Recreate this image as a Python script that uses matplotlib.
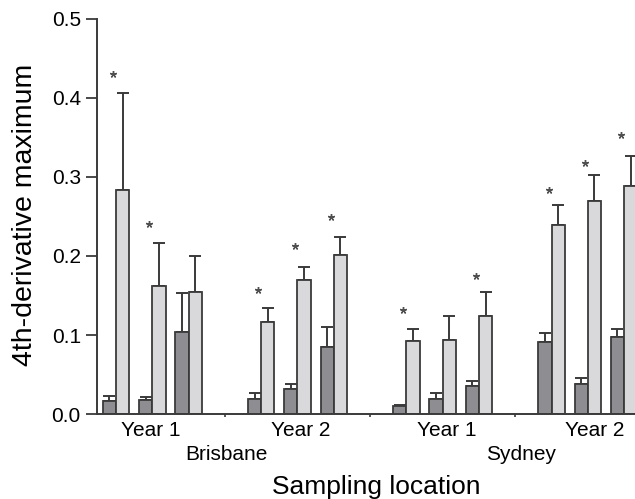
import numpy as np
import matplotlib
matplotlib.use("Agg")
import matplotlib.pyplot as plt
import matplotlib.transforms as mtransforms

plt.rcParams['font.family'] = ['Liberation Sans', 'DejaVu Sans']

# one entry per bar pair: Brisbane Y1 (x3), Brisbane Y2 (x3), Sydney Y1 (x3), Sydney Y2 (x3)
dark_mean = [0.017, 0.018, 0.104, 0.019, 0.032, 0.085, 0.010, 0.019, 0.035, 0.091, 0.038, 0.098]
dark_top = [0.023, 0.022, 0.153, 0.026, 0.038, 0.110, 0.012, 0.027, 0.042, 0.103, 0.046, 0.108]
light_mean = [0.283, 0.162, 0.154, 0.116, 0.170, 0.201, 0.093, 0.094, 0.124, 0.239, 0.270, 0.288]
light_top = [0.406, 0.216, 0.200, 0.134, 0.186, 0.224, 0.108, 0.124, 0.154, 0.265, 0.302, 0.327]
star_y = [0.430, 0.240, None, 0.157, 0.213, 0.249, 0.132, None, 0.175, 0.284, 0.318, 0.353]

year_labels = ["Year 1", "Year 2", "Year 1", "Year 2"]
city_labels = ["Brisbane", "Sydney"]
yticks = [0.0, 0.1, 0.2, 0.3, 0.4, 0.5]

DARK = "#8d8d92"
LIGHT = "#d9d9db"
EDGE = "#3a3a3a"

# pair positions: 3 pairs per group, one empty slot between groups
pos = np.array([g * 4 + i for g in range(4) for i in range(3)], dtype=float)
w = 0.365

fig = plt.figure(figsize=(6.35, 4.99), dpi=100)
ax = fig.add_axes([0.1535, 0.1703, 1.0 - 0.1535, 0.962 - 0.1703])

dm = np.array(dark_mean)
lm = np.array(light_mean)
ax.bar(pos - w / 2, dm, width=w, color=DARK, edgecolor=EDGE, linewidth=1.3, zorder=2)
ax.bar(pos + w / 2, lm, width=w, color=LIGHT, edgecolor=EDGE, linewidth=1.3, zorder=2)

# upper error bars only
ax.errorbar(pos - w / 2, dm, yerr=[np.zeros_like(dm), np.array(dark_top) - dm],
            fmt='none', ecolor=EDGE, elinewidth=1.4, capsize=4.6, capthick=1.4, zorder=1)
ax.errorbar(pos + w / 2, lm, yerr=[np.zeros_like(lm), np.array(light_top) - lm],
            fmt='none', ecolor=EDGE, elinewidth=1.4, capsize=4.6, capthick=1.4, zorder=1)

for x, s in zip(pos, star_y):
    if s is not None:
        ax.plot(x - 0.08, s, marker=(5, 2, 0), markersize=5, mew=1.0,
                color="#505050", linestyle='none', zorder=3)

ax.set_xlim(-0.51, 14.3)
ax.set_ylim(0, 0.5)
ax.set_yticks(yticks)
ax.set_yticklabels([f"{v:.1f}" for v in yticks])
ax.tick_params(axis='y', length=8, width=1.3, color=EDGE, labelsize=15, pad=4)

# small separator ticks between groups, year labels underneath
ax.set_xticks([3, 7, 11])
ax.set_xticklabels([])
ax.tick_params(axis='x', length=2, width=1.2, color=EDGE)
ax.set_xticks([0.95, 5.1, 9.1, 13.2], minor=True)
ax.set_xticklabels(year_labels, minor=True)
ax.tick_params(axis='x', which='minor', length=0, labelsize=15, pad=5)

for sp in ['top', 'right']:
    ax.spines[sp].set_visible(False)
for sp in ['left', 'bottom']:
    ax.spines[sp].set_color(EDGE)
    ax.spines[sp].set_linewidth(1.4)

trans = mtransforms.blended_transform_factory(ax.transData, fig.transFigure)
ax.text(3.03, 1 - 455 / 499, city_labels[0], transform=trans, ha='center', va='center', fontsize=15)
ax.text(11.16, 1 - 455 / 499, city_labels[1], transform=trans, ha='center', va='center', fontsize=15)
ax.text(7.16, 1 - 487 / 499, "Sampling location", transform=trans, ha='center', va='center', fontsize=19)

fig.text(25 / 635, 1 - 215 / 499, "4th-derivative maximum", rotation=90,
         ha='center', va='center', fontsize=20.5)

fig.savefig("out.png", dpi=100)
